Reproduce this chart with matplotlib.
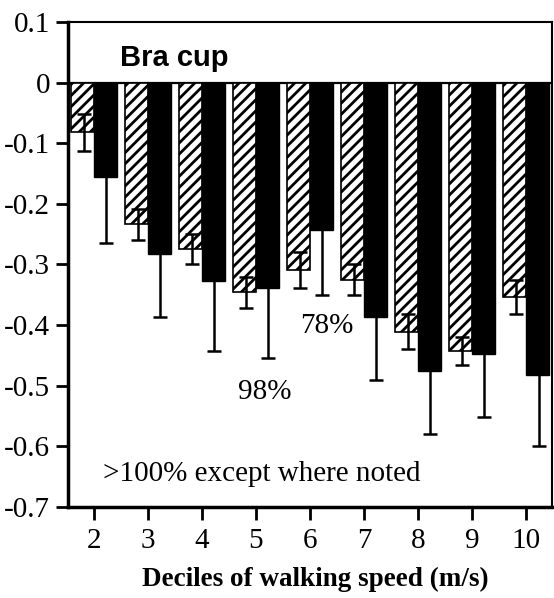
import numpy as np
import matplotlib
matplotlib.use('Agg')
import matplotlib.pyplot as plt

# --- Data ---
deciles = [2, 3, 4, 5, 6, 7, 8, 9, 10]
hatched_vals = [-0.082, -0.234, -0.274, -0.346, -0.309, -0.325, -0.411, -0.443, -0.354]
hatched_err = [0.030, 0.025, 0.025, 0.025, 0.029, 0.026, 0.029, 0.023, 0.028]
black_vals = [-0.155, -0.283, -0.327, -0.338, -0.243, -0.386, -0.476, -0.447, -0.483]
black_err = [0.109, 0.104, 0.116, 0.117, 0.108, 0.105, 0.104, 0.105, 0.117]
yticks = [0.1, 0, -0.1, -0.2, -0.3, -0.4, -0.5, -0.6, -0.7]
ytick_labels = ['0.1', '0', '-0.1', '-0.2', '-0.3', '-0.4', '-0.5', '-0.6', '-0.7']

plt.rcParams['font.family'] = ['Liberation Serif', 'DejaVu Serif']
plt.rcParams['hatch.linewidth'] = 2.0

fig = plt.figure(figsize=(5.54, 5.98), dpi=100)
ax = fig.add_axes([0.1227, 0.1522, 0.8737, 0.811])

x = np.array(deciles, dtype=float)
w = 0.42
ax.bar(x - w / 2, hatched_vals, width=w, color='white', edgecolor='black',
       hatch='///', linewidth=1.2, zorder=2)
ax.bar(x + w / 2, black_vals, width=w, color='black', edgecolor='black',
       linewidth=1.0, zorder=2)
ax.errorbar(x - w / 2 + 0.02, hatched_vals, yerr=hatched_err, fmt='none',
            ecolor='black', elinewidth=1.8, capsize=5, capthick=1.8, zorder=3)
ax.errorbar(x + w / 2 + 0.02, black_vals, yerr=black_err, fmt='none',
            ecolor='black', elinewidth=1.8, capsize=5, capthick=1.8, zorder=3)

ax.axhline(0, color='black', linewidth=1.6, zorder=1)

ax.set_xlim(1.52, 10.48)
ax.set_ylim(-0.7, 0.1)
ax.set_xticks(deciles)
ax.set_xticklabels([str(d) for d in deciles], fontsize=21)
ax.set_yticks(yticks)
ax.set_yticklabels(ytick_labels, fontsize=21)
ax.tick_params(axis='both', direction='out', length=9, width=2)
ax.tick_params(axis='x', pad=6)
ax.tick_params(axis='y', pad=4)
for side in ['left', 'bottom']:
    ax.spines[side].set_linewidth(2.5)
for side in ['top', 'right']:
    ax.spines[side].set_linewidth(1.5)

ax.set_xlabel('Deciles of walking speed (m/s)', fontsize=19.5, fontweight='bold', labelpad=8)
ax.xaxis.set_label_coords(0.512, -0.123)
ax.xaxis.label.set_va('top')

ax.text(2.48, 0.041, 'Bra cup', fontsize=21, fontweight='bold',
        family='Liberation Sans', va='center', ha='left')
ax.text(6.31, -0.402, '78%', fontsize=21, ha='center', va='center')
ax.text(5.17, -0.511, '98%', fontsize=21, ha='center', va='center')
ax.text(2.17, -0.646, '>100% except where noted', fontsize=21, ha='left', va='center')

fig.savefig('out.png', dpi=100)
